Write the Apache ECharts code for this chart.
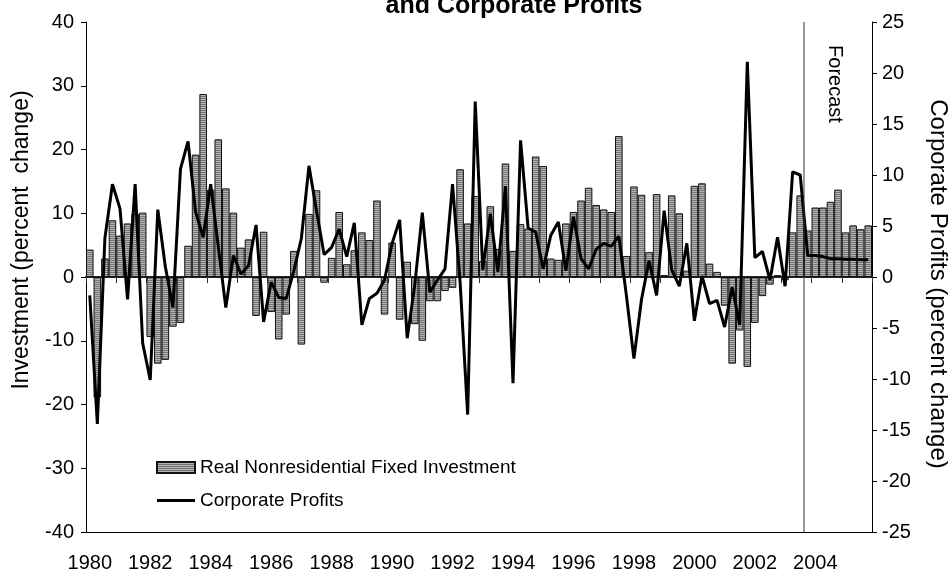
<!DOCTYPE html>
<html>
<head>
<meta charset="utf-8">
<script src="https://cdn.jsdelivr.net/npm/echarts@6/dist/echarts.min.js"></script>
<style>
  html, body { margin: 0; padding: 0; background: #fff; }
  #chart { width: 952px; height: 573px; }
</style>
</head>
<body>
<div id="chart"></div>
<script>
// quarterly, 1980Q1 .. 2005Q4
const years = [1980, 1981, 1982, 1983, 1984, 1985, 1986, 1987, 1988, 1989, 1990, 1991, 1992,
  1993, 1994, 1995, 1996, 1997, 1998, 1999, 2000, 2001, 2002, 2003, 2004, 2005]
const quarters = []
years.forEach(y => { for (let q = 1; q <= 4; q++) quarters.push(y + 'Q' + q) })

// real nonresidential fixed investment, percent change (left axis)
const investment = [
  4.3, -18.9, 2.9, 8.9, 6.5, 8.4, 9.9, 10.1,
  -9.4, -13.6, -13.0, -7.8, -7.2, 4.9, 19.2, 28.7,
  13.7, 21.6, 13.9, 10.1, 4.6, 5.9, -6.1, 7.1,
  -5.5, -9.8, -5.9, 4.1, -10.6, 9.9, 13.6, -0.9,
  3.0, 10.2, 2.0, 4.2, 7.0, 5.8, 12.0, -5.9,
  5.4, -6.7, 2.4, -7.4, -10.0, -3.8, -3.8, -2.2,
  -1.7, 16.9, 8.4, 12.7, 2.5, 11.1, 4.4, 17.8,
  4.1, 8.3, 7.6, 18.9, 17.4, 2.9, 2.7, 8.4,
  10.2, 12.0, 14.0, 11.3, 10.6, 10.2, 22.1, 3.3,
  14.2, 12.9, 3.9, 13.0, 0.3, 12.8, 10.0, 1.0,
  14.3, 14.7, 2.1, 0.8, -4.5, -13.6, -8.4, -14.1,
  -7.2, -3.0, -1.2, 0.3, -0.5, 7.0, 12.8, 7.3,
  10.9, 10.9, 11.8, 13.7, 7.0, 8.1, 7.5, 8.1
]

// corporate profits, percent change (right axis)
const profits = [
  -1.8, -14.4, 3.8, 9.1, 6.7, -2.2, 9.1, -6.5,
  -10.1, 6.6, 1.0, -3.0, 10.6, 13.3, 6.4, 3.9,
  9.1, 3.0, -3.0, 2.1, 0.3, 1.1, 5.1, -4.4,
  -0.5, -2.0, -2.1, 0.6, 3.8, 10.9, 6.5, 2.2,
  2.9, 4.7, 2.0, 5.3, -4.7, -2.1, -1.6, -0.3,
  3.3, 5.6, -6.0, -0.8, 6.3, -1.5, -0.3, 0.8,
  9.1, -0.5, -13.5, 17.2, 0.7, 6.2, 0.5, 8.9,
  -10.4, 13.4, 4.8, 4.4, 0.8, 4.1, 5.4, 0.6,
  5.9, 1.8, 0.8, 2.7, 3.3, 3.0, 4.0, -1.8,
  -8.0, -2.2, 1.6, -1.8, 6.5, 0.7, -0.9, 3.3,
  -4.3, 0.1, -2.6, -2.3, -4.9, -1.0, -4.7, 21.1,
  1.9, 2.5, -0.3, 3.9, -0.9, 10.3, 10.0, 2.1,
  2.1, 2.0, 1.8, 1.8, 1.75, 1.75, 1.7, 1.7
]

const forecastStart = '2003Q4'
const leftTicks = { min: -40, max: 40, interval: 10 }
const rightTicks = { min: -25, max: 25, interval: 5 }

const font = "'Liberation Sans', Arial, sans-serif"

// striped gray fill like the excel bars
function stripes() {
  const c = document.createElement('canvas')
  c.width = 4
  c.height = 2
  const ctx = c.getContext('2d')
  ctx.fillStyle = '#767676'
  ctx.fillRect(0, 0, 4, 1)
  ctx.fillStyle = '#b4b4b4'
  ctx.fillRect(0, 1, 4, 1)
  return c
}

const chart = echarts.init(document.getElementById('chart'))

chart.setOption({
  animation: false,
  grid: { left: 86, right: 80, top: 22, bottom: 40 },
  legend: {
    orient: 'vertical',
    left: 151,
    top: 453,
    itemWidth: 38,
    itemHeight: 11,
    itemGap: 14,
    textStyle: { fontFamily: font, fontSize: 19, color: '#000' },
    data: [
      { name: 'Real Nonresidential Fixed Investment', icon: 'rect' },
      // thin bar inside an 11px box so it reads as a line
      { name: 'Corporate Profits', icon: 'path://M0,0 M38,11 M0,4 L38,4 L38,7 L0,7 Z' }
    ]
  },
  xAxis: [
    {
      type: 'category',
      data: quarters,
      position: 'bottom',
      axisLine: { onZero: false, lineStyle: { color: '#000', width: 1 } },
      axisTick: { show: false },
      axisLabel: {
        interval: 7,
        margin: 21,
        fontFamily: font,
        fontSize: 20,
        color: '#000',
        formatter: v => v.slice(0, 4)
      },
      splitLine: { show: false }
    },
    {
      type: 'category',
      data: quarters,
      position: 'bottom',
      axisLine: { onZero: true, onZeroAxisIndex: 0, lineStyle: { color: '#222', width: 2 } },
      axisTick: { show: true, interval: 3, length: 6, lineStyle: { color: '#333' } },
      axisLabel: { show: false },
      splitLine: { show: false }
    }
  ],
  yAxis: [
    {
      type: 'value',
      min: leftTicks.min,
      max: leftTicks.max,
      interval: leftTicks.interval,
      axisLine: { show: true, lineStyle: { color: '#000' } },
      axisTick: { show: true, length: 5, lineStyle: { color: '#000' } },
      axisLabel: { margin: 12, fontFamily: font, fontSize: 20, color: '#000' },
      splitLine: { show: false }
    },
    {
      type: 'value',
      min: rightTicks.min,
      max: rightTicks.max,
      interval: rightTicks.interval,
      position: 'right',
      axisLine: { show: true, lineStyle: { color: '#000' } },
      axisTick: { show: true, length: 5, lineStyle: { color: '#000' } },
      axisLabel: { margin: 10, fontFamily: font, fontSize: 20, color: '#000' },
      splitLine: { show: false }
    }
  ],
  series: [
    {
      name: 'Real Nonresidential Fixed Investment',
      type: 'bar',
      xAxisIndex: 0,
      yAxisIndex: 0,
      barCategoryGap: '0%',
      data: investment,
      itemStyle: {
        color: { image: stripes(), repeat: 'repeat' },
        borderColor: '#111',
        borderWidth: 1
      }
    },
    {
      name: 'Corporate Profits',
      type: 'line',
      xAxisIndex: 0,
      yAxisIndex: 1,
      data: profits,
      symbol: 'none',
      z: 5,
      lineStyle: { color: '#000', width: 3 },
      itemStyle: { color: '#000' }
    }
  ]
})

// forecast divider sits on the boundary between 2003Q3 and 2003Q4
const fi = quarters.indexOf(forecastStart)
const fx = (chart.convertToPixel({ xAxisIndex: 0 }, quarters[fi - 1]) +
  chart.convertToPixel({ xAxisIndex: 0 }, quarters[fi])) / 2
const yTop = chart.convertToPixel({ yAxisIndex: 0 }, leftTicks.max)
const yBot = chart.convertToPixel({ yAxisIndex: 0 }, leftTicks.min)

chart.setOption({
  graphic: [
    {
      type: 'line',
      shape: { x1: fx, y1: yTop, x2: fx, y2: yBot },
      style: { stroke: '#333', lineWidth: 1 },
      z: 10
    },
    {
      type: 'text',
      x: fx + 31,
      y: 84,
      rotation: -Math.PI / 2,
      style: { text: 'Forecast', font: '20px ' + font, fill: '#000', align: 'center', verticalAlign: 'middle' },
      z: 10
    },
    {
      type: 'text',
      x: 514,
      y: 6,
      style: { text: 'and Corporate Profits', font: 'bold 25px ' + font, fill: '#000', align: 'center', verticalAlign: 'middle' }
    },
    {
      type: 'text',
      x: 22,
      y: 240,
      rotation: Math.PI / 2,
      style: { text: 'Investment (percent  change)', font: '23px ' + font, fill: '#000', align: 'center', verticalAlign: 'middle' }
    },
    {
      type: 'text',
      x: 938,
      y: 284,
      rotation: -Math.PI / 2,
      style: { text: 'Corporate Profits (percent change)', font: '24px ' + font, fill: '#000', align: 'center', verticalAlign: 'middle' }
    }
  ]
})
</script>
</body>
</html>
